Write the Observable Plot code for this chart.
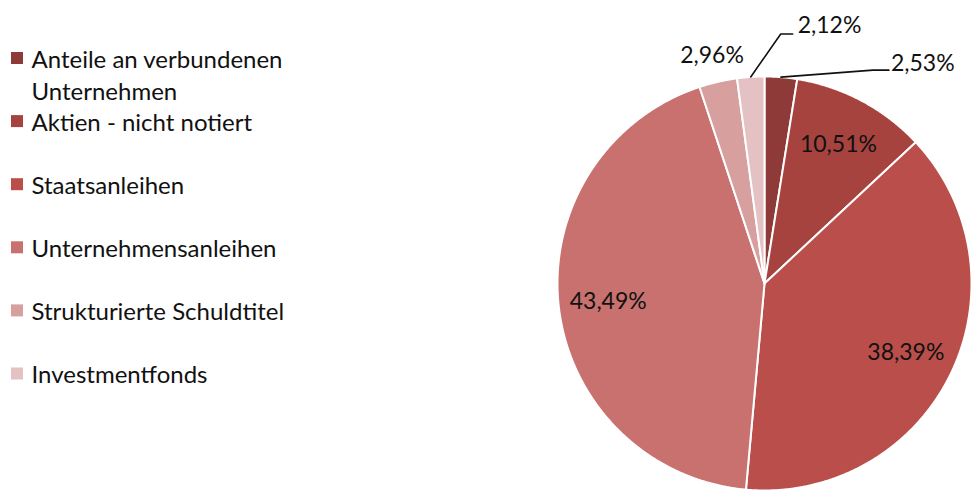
<!DOCTYPE html>
<html>
<head>
<meta charset="utf-8">
<script src="https://cdn.jsdelivr.net/npm/d3@7"></script>
<script src="https://cdn.jsdelivr.net/npm/@observablehq/plot@0.6"></script>
<style>
  html, body { margin: 0; padding: 0; background: #fff; }
  #chart svg { display: block; }
</style>
</head>
<body>
<div id="chart"></div>
<script>
// ---- data ----
const categories = [
  "Anteile an verbundenen\nUnternehmen",
  "Aktien - nicht notiert",
  "Staatsanleihen",
  "Unternehmensanleihen",
  "Strukturierte Schuldtitel",
  "Investmentfonds"
];
const values = [2.53, 10.51, 38.39, 43.49, 2.96, 2.12];
const palette = ["#8E3A38", "#A6433F", "#BA4E4A", "#C8716F", "#D7A09F", "#E4C1C2"];

// ---- layout ----
const W = 971, H = 493;
const cx = 764, cy = 283, R = 207;
const fontFamily = "Lato, 'Open Sans', sans-serif";
const labelSize = 23, legendSize = 24;

const rows = categories.map((name, i) => ({name, value: values[i], label: values[i].toFixed(2).replace(".", ",") + "%"}));
const arcs = d3.pie().sort(null).value(d => d.value)(rows);
const pt = (a, r) => [cx + r * Math.sin(a), cy - r * Math.cos(a)];

// slice polygons
const slicePts = [];
arcs.forEach(a => {
  slicePts.push({name: a.data.name, x: cx, y: cy});
  const n = Math.max(2, Math.ceil((a.endAngle - a.startAngle) / 0.005) + 1);
  for (let k = 0; k < n; k++) {
    const t = a.startAngle + (a.endAngle - a.startAngle) * k / (n - 1);
    const [x, y] = pt(t, R);
    slicePts.push({name: a.data.name, x, y});
  }
  slicePts.push({name: a.data.name, x: cx, y: cy});
});

// labels
const inside = [];
const outside = [];
const leaders = [];
const leaderSpec = {
  0: {elbow: [92, -7], run: 16, gap: 2, textDy: -7},
  5: {elbow: [30, -43], run: 12, gap: 5, textDy: -8}
};
arcs.forEach((a, i) => {
  const mid = (a.startAngle + a.endAngle) / 2;
  if (a.data.value > 5) {
    const [x, y] = pt(mid, R * 0.76);
    inside.push({x, y, label: a.data.label});
  } else if (leaderSpec[i]) {
    const s = leaderSpec[i];
    const [x0, y0] = pt(mid, R);
    const x1 = x0 + s.elbow[0], y1 = y0 + s.elbow[1];
    const x2 = x1 + s.run;
    leaders.push({id: i, x: x0, y: y0}, {id: i, x: x1, y: y1}, {id: i, x: x2, y: y1});
    outside.push({x: x2 + s.gap, y: y1 + s.textDy, label: a.data.label, anchor: "start"});
  } else {
    const [x, y] = pt(mid, R * 1.13);
    outside.push({x, y, label: a.data.label, anchor: "middle"});
  }
});

// legend
const legRow0 = 58, legStep = 63.1, legLine = 32;
const legend = rows.map((d, i) => {
  const lines = d.name.split("\n").length;
  return {
    name: d.name,
    y: legRow0 + legStep * i,
    ty: legRow0 + legStep * i + (lines - 1) * legLine / 2
  };
});

const chart = Plot.plot({
  width: W,
  height: H,
  margin: 0,
  style: {background: "#fff", fontFamily},
  x: {domain: [0, W], range: [0, W], axis: null},
  y: {domain: [0, H], range: [0, H], axis: null},
  color: {type: "ordinal", domain: categories, range: palette},
  marks: [
    Plot.line(slicePts, {x: "x", y: "y", z: "name", fill: "name", stroke: "white", strokeWidth: 2, strokeLinejoin: "round", curve: "linear"}),
    Plot.text(inside, {x: "x", y: "y", text: "label", fontSize: labelSize, fill: "#111"}),
    Plot.line(leaders, {x: "x", y: "y", z: "id", stroke: "#111", strokeWidth: 1.6, curve: "linear"}),
    Plot.text(outside.filter(d => d.anchor === "start"), {x: "x", y: "y", text: "label", textAnchor: "start", fontSize: labelSize, fill: "#111"}),
    Plot.text(outside.filter(d => d.anchor === "middle"), {x: "x", y: "y", text: "label", fontSize: labelSize, fill: "#111"}),
    Plot.rect(legend, {x1: 11, x2: 23, y1: d => d.y - 6, y2: d => d.y + 6, fill: "name"}),
    Plot.text(legend, {x: 31, y: "ty", dy: -1, text: "name", textAnchor: "start", fontSize: legendSize, lineHeight: legLine / legendSize, fill: "#111"})
  ]
});
document.getElementById("chart").appendChild(chart);
</script>
</body>
</html>
